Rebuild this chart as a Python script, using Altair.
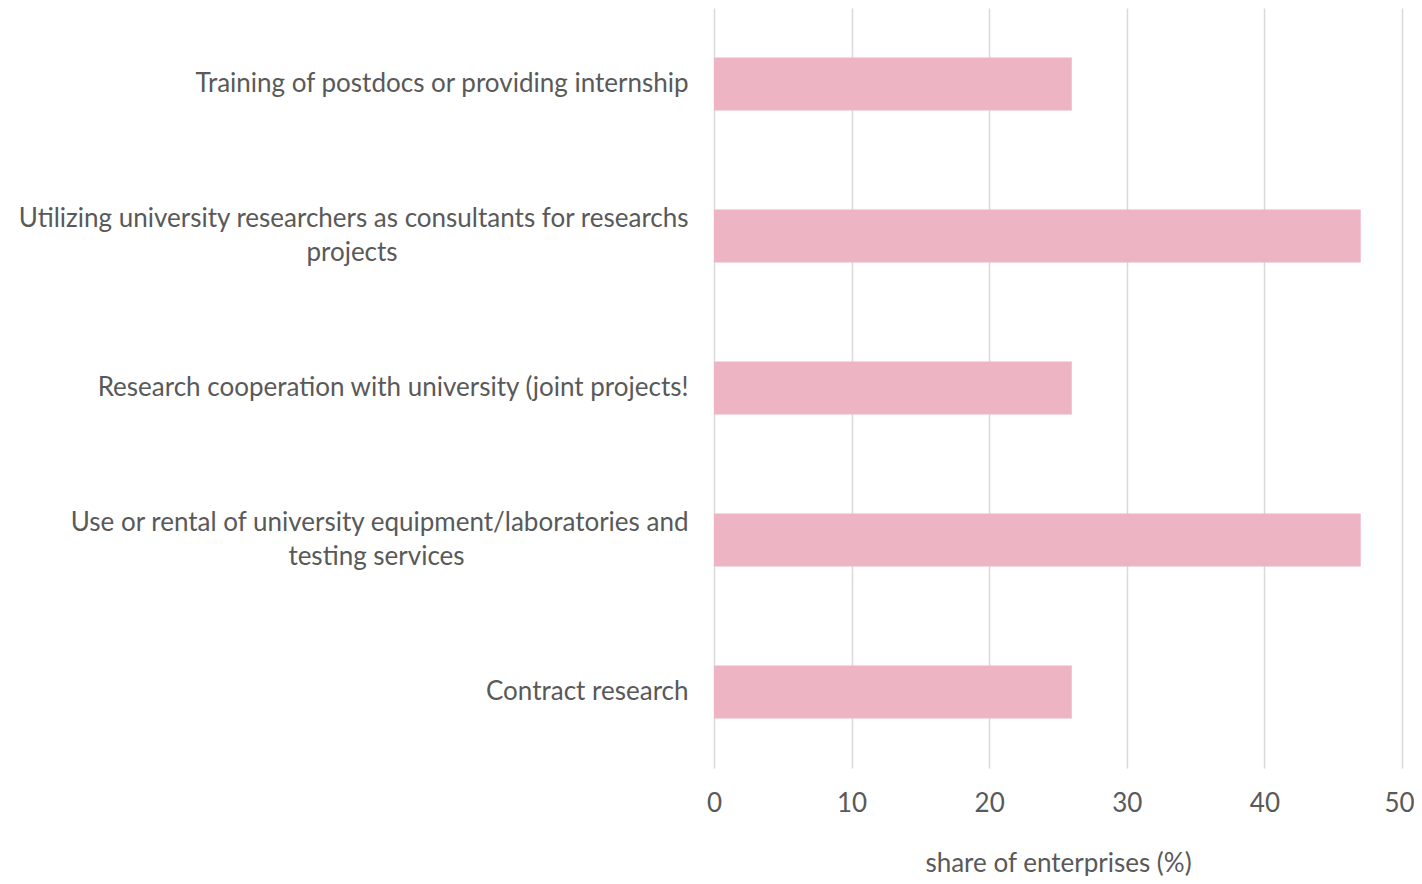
import altair as alt
import pandas as pd

categories = [
    "Training of postdocs or providing internship",
    "Utilizing university researchers as consultants for researchs projects",
    "Research cooperation with university (joint projects!",
    "Use or rental of university equipment/laboratories and testing services",
    "Contract research",
]
first_lines = [
    "Training of postdocs or providing internship",
    "Utilizing university researchers as consultants for researchs",
    "Research cooperation with university (joint projects!",
    "Use or rental of university equipment/laboratories and",
    "Contract research",
]
second_lines = ["", "projects", "", "testing services", ""]
values = [26, 47, 26, 47, 26]
x_ticks = [0, 10, 20, 30, 40, 50]

df = pd.DataFrame({"category": categories, "value": values,
                   "line1": first_lines, "line2": second_lines})

label_expr = "{" + ",".join(
    '"%s": "%s"' % (c, l) for c, l in zip(categories, first_lines)
) + "}[datum.value]"
two_line = [c for c, s in zip(categories, second_lines) if s]
two_line_test = "indexof([" + ",".join('"%s"' % c for c in two_line) + "], datum.value) >= 0"

FONT = "Lato"
TXT = "#595959"
LH = 34

y_enc = alt.Y(
    "category:N",
    sort=None,
    scale=alt.Scale(domain=categories, paddingInner=0.65, paddingOuter=0.325),
    axis=alt.Axis(
        title=None,
        domain=False,
        ticks=False,
        labelPadding=26,
        labelFontSize=26,
        labelFont=FONT,
        labelColor=TXT,
        labelLimit=0,
        labelExpr=label_expr,
        labelOffset={"condition": {"test": two_line_test, "value": -LH / 2}, "value": 0},
    ),
)

bars = alt.Chart(df).mark_bar(color="#EDB4C4").encode(
    x=alt.X(
        "value:Q",
        scale=alt.Scale(domain=[0, 50], nice=False),
        axis=alt.Axis(
            values=x_ticks,
            title="share of enterprises (%)",
            grid=True,
            gridColor="#D9D9D9",
            gridWidth=1.5,
            domain=False,
            ticks=False,
            labelFlush=False,
            labelOffset={"condition": {"test": "datum.value == 50", "value": -3}, "value": 0},
            labelPadding=22,
            labelFontSize=26,
            labelColor=TXT,
            labelFont=FONT,
            titleFont=FONT,
            titleFontSize=26,
            titleFontWeight="normal",
            titleColor=TXT,
            titlePadding=34,
        ),
    ),
    y=y_enc,
)

def second_line_layer(cat, xpos):
    return alt.Chart(df).transform_filter(
        alt.datum.category == cat
    ).mark_text(
        font=FONT, fontSize=26, color=TXT, align="center", baseline="middle", dy=LH / 2
    ).encode(
        y=alt.Y("category:N", sort=None, title=None),
        x=alt.value(xpos),
        text="line2:N",
    )

t1 = second_line_layer(categories[1], -362)
t2 = second_line_layer(categories[3], -337.5)

chart = alt.layer(bars, t1, t2).properties(
    width=688,
    height=760,
    autosize=alt.AutoSizeParams(type="none"),
    padding={"left": 706, "top": 0, "right": 12, "bottom": 108},
).configure_view(stroke=None)

chart.save("out.html", embed_options={"renderer": "svg", "actions": False})
